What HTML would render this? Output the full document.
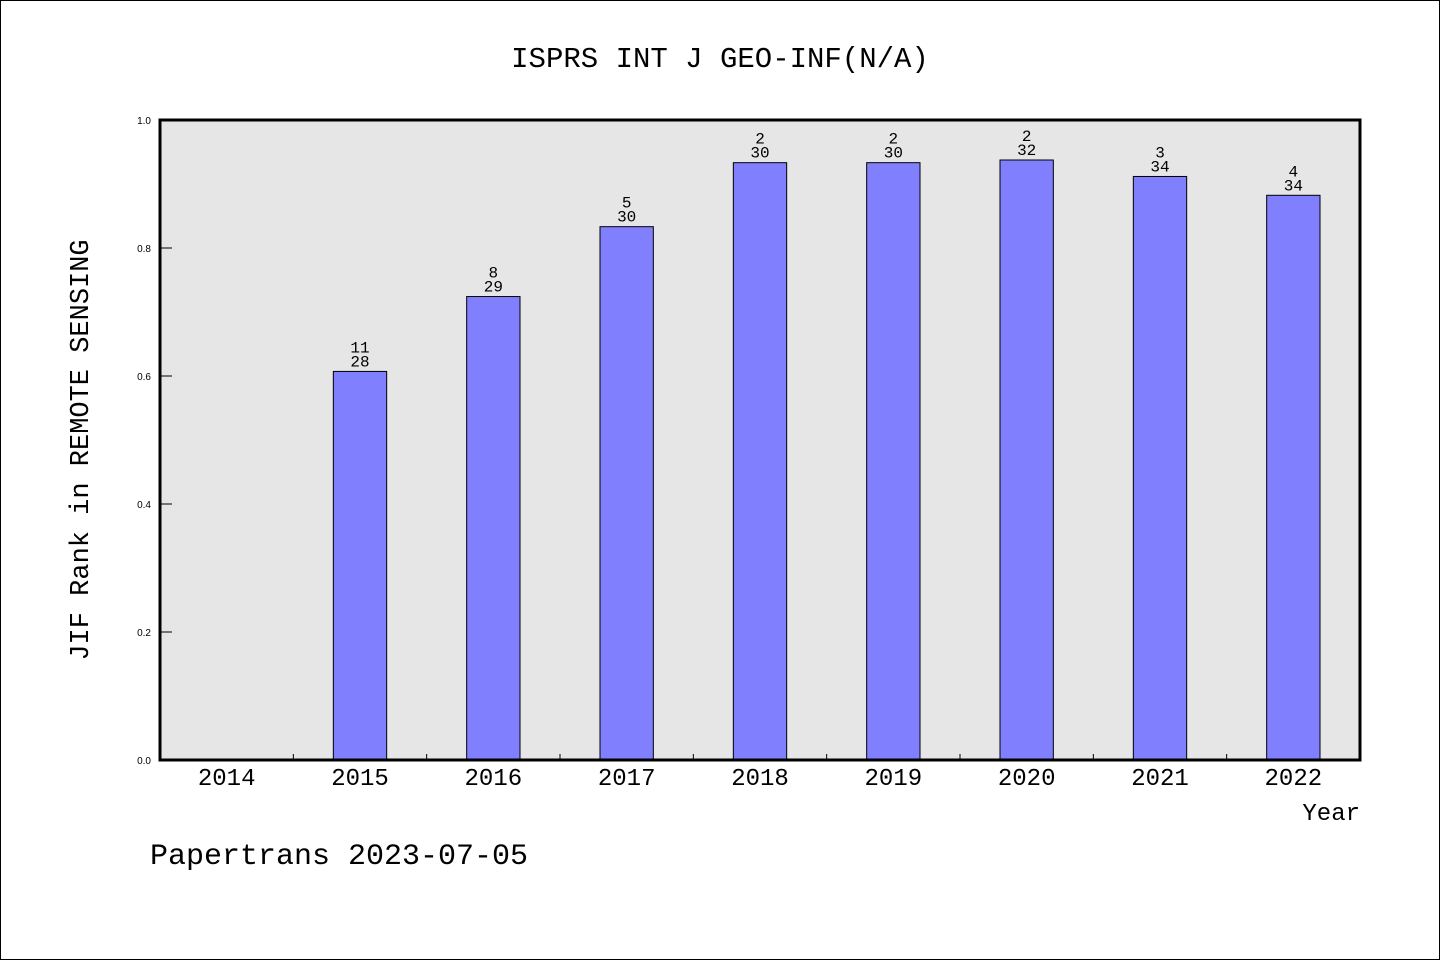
<!DOCTYPE html>
<html><head><meta charset="utf-8"><style>
html,body{margin:0;padding:0;background:#fff;}
svg{display:block;font-family:"Liberation Mono","WenQuanYi Zen Hei",monospace;}
</style></head><body>
<svg id="chart" width="1440" height="960" viewBox="0 0 1440 960">
<rect x="0.5" y="0.5" width="1439" height="959" fill="#fff" stroke="#000"/>
<text x="720" y="67" font-size="29" text-anchor="middle">ISPRS INT J GEO-INF(N/A)</text>
<rect x="160" y="120" width="1200" height="640" fill="#e6e6e6"/>
<g id="bars"></g>
<rect x="160" y="120" width="1200" height="640" fill="none" stroke="#000" stroke-width="3"/>
<g id="axes"></g>
<text x="1360" y="820" font-size="24" text-anchor="end">Year</text>
<text transform="translate(88,450) rotate(-90)" font-size="27" text-anchor="middle">JIF Rank in REMOTE SENSING</text>
<text x="150" y="864" font-size="30">Papertrans 2023-07-05</text>
</svg>
<script>
const years=["2014","2015","2016","2017","2018","2019","2020","2021","2022"];
const ranks=[null,11,8,5,2,2,2,3,4];
const totals=[null,28,29,30,30,30,32,34,34];
const yTicks=[0,0.2,0.4,0.6,0.8,1.0];
const NS="http://www.w3.org/2000/svg";
const X0=160,X1=1360,Y0=760,Y1=120;
const band=(X1-X0)/years.length;
const xc=i=>X0+band*(i+0.5);
const y=v=>Y0-(Y0-Y1)*v;
function mk(t,a,p){const e=document.createElementNS(NS,t);for(const k in a)e.setAttribute(k,a[k]);p.appendChild(e);return e;}
const bars=document.getElementById('bars'),axes=document.getElementById('axes');
years.forEach((yr,i)=>{
  if(ranks[i]!=null){
    const v=1-ranks[i]/totals[i];
    const bw=band*0.4;
    const r=mk('rect',{x:xc(i)-bw/2,y:y(v),width:bw,height:Y0-y(v),fill:'#8080ff',stroke:'#000','stroke-width':1},bars);
    
    
    const t1=mk('text',{x:xc(i),y:y(v)-19,'font-size':16,'text-anchor':'middle'},bars);
    t1.textContent=ranks[i];
    
    
    const t2=mk('text',{x:xc(i),y:y(v)-5,'font-size':16,'text-anchor':'middle'},bars);
    t2.textContent=totals[i];
    
    
  }
  const tl=mk('text',{x:xc(i),y:785,'font-size':24,'text-anchor':'middle'},axes);
  tl.textContent=yr;
  
  
  if(i>0){
    const tk=mk('line',{x1:X0+band*i,x2:X0+band*i,y1:Y0,y2:Y0-6,stroke:'#000','stroke-width':1},axes);
    
    
  }
});
yTicks.forEach(v=>{
  const tk=mk('line',{x1:X0,x2:X0+12,y1:y(v),y2:y(v),stroke:'#000','stroke-width':1},axes);
  
  
  const tl=mk('text',{x:151,y:y(v)+4,'font-size':10,'text-anchor':'end','font-family':'Liberation Sans, sans-serif'},axes);
  tl.textContent=v.toFixed(1);
  
  
});
</script>
</body></html>
